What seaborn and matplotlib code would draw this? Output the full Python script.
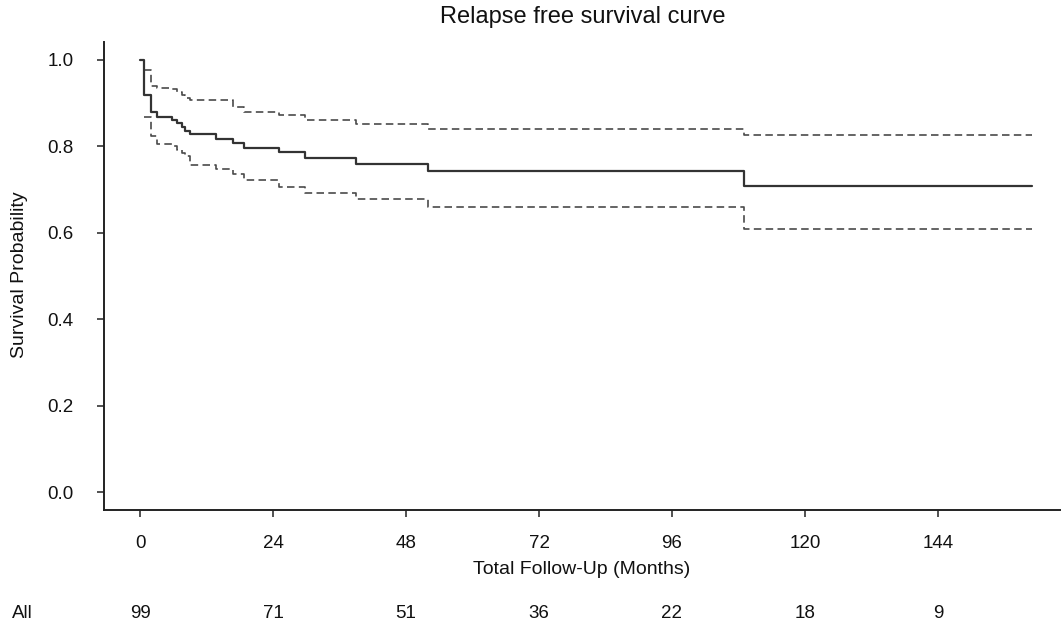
import matplotlib
matplotlib.use("Agg")
import matplotlib.pyplot as plt
import seaborn as sns
import pandas as pd

# ---- data ----
surv_time = [0, 0.8, 1.9, 3.0, 5.7, 6.6, 7.5, 8.2, 9.0, 13.8, 16.8, 18.7,
             25.0, 29.8, 39.0, 51.9, 109.0, 161.0]
surv_prob = [1.0, 0.920, 0.879, 0.869, 0.861, 0.853, 0.845, 0.836, 0.828,
             0.818, 0.808, 0.797, 0.786, 0.773, 0.760, 0.744, 0.709, 0.709]

ci_time = [0.8, 1.9, 3.0, 5.7, 6.6, 7.5, 8.2, 9.0, 13.8, 16.8, 18.7,
           25.0, 29.8, 39.0, 51.9, 109.0, 161.0]
ci_upper = [0.977, 0.940, 0.936, 0.932, 0.927, 0.920, 0.913, 0.908, 0.908,
            0.892, 0.880, 0.872, 0.861, 0.851, 0.840, 0.827, 0.827]
ci_lower = [0.868, 0.825, 0.806, 0.800, 0.792, 0.785, 0.778, 0.757, 0.747,
            0.736, 0.723, 0.707, 0.693, 0.678, 0.659, 0.609, 0.609]

x_ticks = [0, 24, 48, 72, 96, 120, 144]
y_ticks = [0.0, 0.2, 0.4, 0.6, 0.8, 1.0]
risk_label = "All"
n_at_risk = [99, 71, 51, 36, 22, 18, 9]

title = "Relapse free survival curve"
xlabel = "Total Follow-Up (Months)"
ylabel = "Survival Probability"

# ---- style ----
sns.set_style("white")
plt.rcParams["font.family"] = ["Liberation Sans", "DejaVu Sans"]

W, H = 1061, 625
fig = plt.figure(figsize=(W / 100, H / 100), dpi=100)
ax = fig.add_axes([104 / W, 1 - 510 / H, (W - 104) / W, (510 - 42) / H])

df_s = pd.DataFrame({"time": surv_time, "prob": surv_prob})
df_u = pd.DataFrame({"time": ci_time, "prob": ci_upper})
df_l = pd.DataFrame({"time": ci_time, "prob": ci_lower})

sns.lineplot(data=df_u, x="time", y="prob", ax=ax, drawstyle="steps-post",
             estimator=None, sort=False, color="#4a4a4a", linewidth=1.2,
             dashes=False, linestyle=(0, (4.5, 2.6)))
sns.lineplot(data=df_l, x="time", y="prob", ax=ax, drawstyle="steps-post",
             estimator=None, sort=False, color="#4a4a4a", linewidth=1.2,
             dashes=False, linestyle=(0, (4.5, 2.6)))
sns.lineplot(data=df_s, x="time", y="prob", ax=ax, drawstyle="steps-post",
             estimator=None, sort=False, color="#333333", linewidth=1.6)

ax.set_xlim(-6.5, 166.2)
ax.set_ylim(-0.0416, 1.0416)
ax.set_xticks(x_ticks)
ax.set_xticklabels([str(v) for v in x_ticks])
ax.set_yticks(y_ticks)
ax.set_yticklabels([f"{v:.1f}" for v in y_ticks])

for s in ["top", "right"]:
    ax.spines[s].set_visible(False)
for s in ["left", "bottom"]:
    ax.spines[s].set_linewidth(1.4)
    ax.spines[s].set_color("#222222")

ax.tick_params(axis="both", which="major", bottom=True, left=True,
               direction="out", length=5, width=1.1,
               color="#222222", labelsize=13.5, labelcolor="#111111")
ax.tick_params(axis="y", pad=17)
ax.tick_params(axis="x", pad=13)

ax.set_xlabel("")
ax.set_ylabel("")
ax.set_title(title, fontsize=17, color="#111111", pad=14)

fig.text(582 / W, 1 - 569 / H, xlabel, ha="center", va="center",
         fontsize=14, color="#111111")
fig.text(20 / W, 1 - 275 / H, ylabel, ha="center", va="center",
         rotation=90, fontsize=14, color="#111111")

# number at risk row
fig.text(12 / W, 1 - 613 / H, risk_label, ha="left", va="center",
         fontsize=13.5, color="#111111")
for xv, n in zip(x_ticks, n_at_risk):
    disp = ax.transData.transform((xv, 0))
    fx = fig.transFigure.inverted().transform(disp)[0]
    fig.text(fx, 1 - 613 / H, str(n), ha="center", va="center",
             fontsize=13.5, color="#111111")

fig.savefig("out.png", dpi=100, facecolor="white")
